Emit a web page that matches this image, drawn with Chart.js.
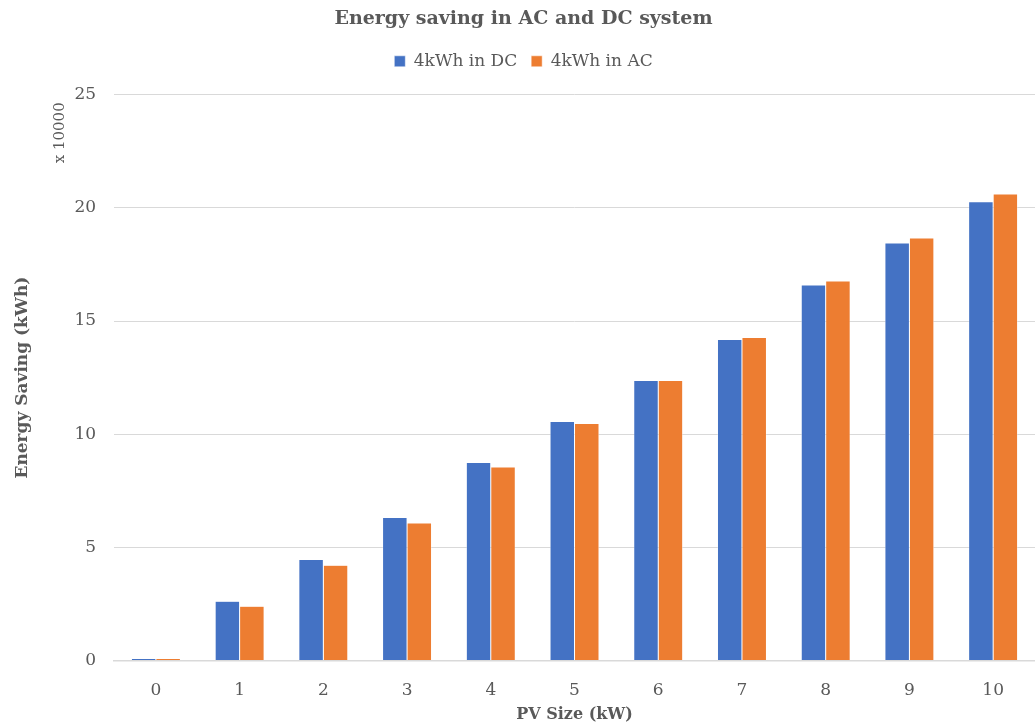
<!DOCTYPE html>
<html lang="en">
<head>
    <meta charset="UTF-8">
    <title>Energy saving in AC and DC system</title>
    <script src="https://cdn.jsdelivr.net/npm/chart.js"></script>
    <style>
        html, body { margin: 0; padding: 0; background: #fff; }
        #wrap { width: 1035px; height: 726px; }
    </style>
</head>
<body>
    <div id="wrap"><canvas id="savingChart"></canvas></div>

    <script>
        // PV sizes (kW) on the x axis
        const pvSizes = ['0', '1', '2', '3', '4', '5', '6', '7', '8', '9', '10'];

        // energy saving in kWh
        const savingDC = [800, 26100, 44600, 63200, 87500, 105600, 123700, 141800, 165900, 184500, 202700];
        const savingAC = [800, 23900, 42100, 60700, 85500, 104700, 123700, 142700, 167700, 186700, 206100];

        const axisMax = 250000;
        const axisStep = 50000;
        const scaleFactor = 10000;

        const textGray = '#595959';
        const serif = "'DejaVu Serif', 'Liberation Serif', serif";

        // little "x 10000" note above the y ticks
        const multiplierLabel = {
            id: 'multiplierLabel',
            afterDraw(chart) {
                const ctx = chart.ctx;
                const area = chart.chartArea;
                ctx.save();
                ctx.translate(60, area.top + 38);
                ctx.rotate(-Math.PI / 2);
                ctx.fillStyle = textGray;
                ctx.font = "15px " + serif;
                ctx.textAlign = 'center';
                ctx.textBaseline = 'middle';
                ctx.fillText('x ' + scaleFactor, 0, 0);
                ctx.restore();
            }
        };

        // some extra room under the legend, like the original
        const legendGap = {
            id: 'legendGap',
            beforeInit(chart) {
                const fit = chart.legend.fit;
                chart.legend.fit = function () {
                    fit.bind(chart.legend)();
                    this.height += 15;
                };
            }
        };

        const ctx = document.getElementById('savingChart').getContext('2d');
        new Chart(ctx, {
            type: 'bar',
            data: {
                labels: pvSizes,
                datasets: [
                    {
                        label: '4kWh in DC',
                        data: savingDC,
                        backgroundColor: '#4472C4',
                        borderColor: '#ffffff',
                        borderWidth: 0.5
                    },
                    {
                        label: '4kWh in AC',
                        data: savingAC,
                        backgroundColor: '#ED7D31',
                        borderColor: '#ffffff',
                        borderWidth: 0.5
                    }
                ]
            },
            options: {
                responsive: true,
                maintainAspectRatio: false,
                animation: false,
                datasets: {
                    bar: { categoryPercentage: 0.585, barPercentage: 1.0 }
                },
                layout: { padding: { top: 8, right: 0, left: 12, bottom: 2 } },
                plugins: {
                    title: {
                        display: true,
                        text: 'Energy saving in AC and DC system',
                        color: textGray,
                        font: { family: serif, size: 19, weight: 'bold' },
                        padding: { top: 0, bottom: 8 }
                    },
                    legend: {
                        display: true,
                        position: 'top',
                        labels: {
                            color: textGray,
                            font: { family: serif, size: 17 },
                            boxWidth: 11,
                            boxHeight: 11,
                            padding: 14
                        }
                    },
                    tooltip: { enabled: false }
                },
                scales: {
                    x: {
                        grid: { display: false, drawTicks: false },
                        border: { display: true, color: '#d9d9d9', width: 1.5 },
                        ticks: {
                            color: textGray,
                            font: { family: serif, size: 17 },
                            padding: 20
                        },
                        title: {
                            display: true,
                            text: 'PV Size (kW)',
                            color: textGray,
                            font: { family: serif, size: 16, weight: 'bold' },
                            padding: { top: -16, bottom: 0 }
                        }
                    },
                    y: {
                        min: 0,
                        max: axisMax,
                        grid: { color: '#d9d9d9', lineWidth: 1, drawTicks: false },
                        border: { display: false },
                        ticks: {
                            stepSize: axisStep,
                            color: textGray,
                            font: { family: serif, size: 17 },
                            padding: 18,
                            callback: v => v / scaleFactor
                        },
                        title: {
                            display: true,
                            text: 'Energy Saving (kWh)',
                            color: textGray,
                            font: { family: serif, size: 17, weight: 'bold' },
                            padding: { top: 0, bottom: 24 }
                        }
                    }
                }
            },
            plugins: [multiplierLabel, legendGap]
        });
    </script>
</body>
</html>
